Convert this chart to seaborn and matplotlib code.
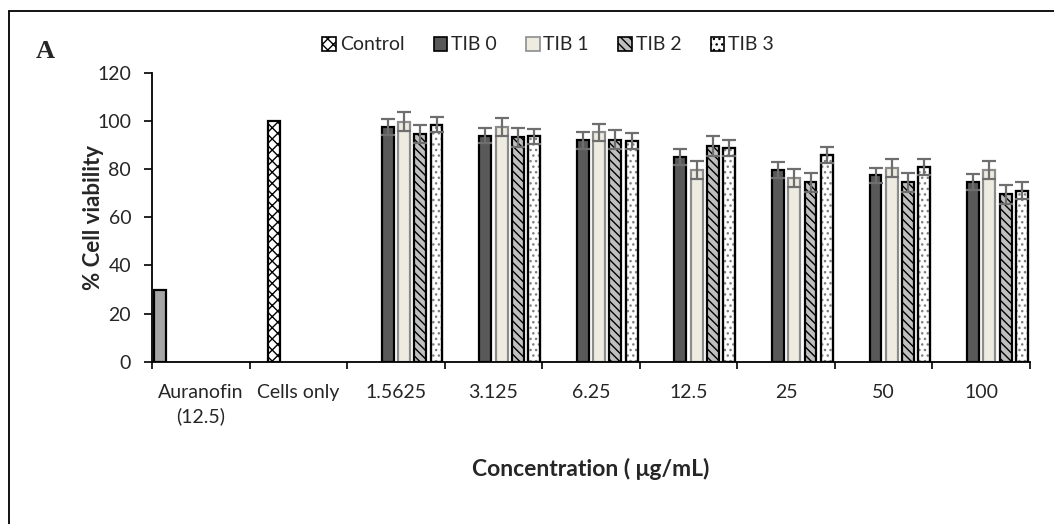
import numpy as np
import pandas as pd
import matplotlib
matplotlib.use("Agg")
import matplotlib.pyplot as plt
from matplotlib.patches import Rectangle
from matplotlib.lines import Line2D
import seaborn as sns

# ---------------- data ----------------
categories = ["Auranofin\n(12.5)", "Cells only", "1.5625", "3.125", "6.25",
              "12.5", "25", "50", "100"]
series_names = ["Auranofin", "Control", "TIB 0", "TIB 1", "TIB 2", "TIB 3"]

auranofin_value = [30]
control_value = [100]
conc_labels = ["1.5625", "3.125", "6.25", "12.5", "25", "50", "100"]
tib0 = [97.6, 94.0, 92.1, 85.2, 79.5, 77.4, 74.7]
tib1 = [99.7, 97.6, 95.3, 79.7, 76.5, 80.4, 79.6]
tib2 = [94.7, 93.3, 92.2, 89.7, 74.6, 74.5, 69.6]
tib3 = [98.5, 93.7, 91.7, 89.0, 86.0, 81.0, 71.1]
tib0_err = [3.3, 3.0, 3.5, 3.3, 3.3, 3.2, 3.2]
tib1_err = [3.9, 3.7, 3.7, 3.9, 3.7, 3.7, 3.7]
tib2_err = [3.8, 3.9, 3.9, 4.2, 4.0, 4.0, 3.9]
tib3_err = [3.2, 3.2, 3.3, 3.3, 3.3, 3.3, 3.5]
yticks = [0, 20, 40, 60, 80, 100, 120]

rows = [dict(category=categories[0], series="Auranofin", value=auranofin_value[0], err=np.nan),
        dict(category=categories[1], series="Control", value=control_value[0], err=np.nan)]
for name, vals, errs in [("TIB 0", tib0, tib0_err), ("TIB 1", tib1, tib1_err),
                         ("TIB 2", tib2, tib2_err), ("TIB 3", tib3, tib3_err)]:
    for c, v, e in zip(conc_labels, vals, errs):
        rows.append(dict(category=c, series=name, value=v, err=e))
df = pd.DataFrame(rows)

# ---------------- styles ----------------
styles = {
    "Auranofin": dict(fc="#A6A6A6", ec="black", hatch=None),
    "Control":   dict(fc="white",   ec="black", hatch="xxx"),
    "TIB 0":     dict(fc="#595959", ec="black", hatch=None),
    "TIB 1":     dict(fc="#EEECE1", ec="#8C8C8C", hatch=None),
    "TIB 2":     dict(fc="#BFBFBF", ec="black", hatch="\\\\\\\\"),
    "TIB 3":     dict(fc="white",   ec="black", hatch="...", hatch_ec="#7F7F7F"),
}
palette = {k: v["fc"] for k, v in styles.items()}

sns.set_style("white")
plt.rcParams["font.family"] = ["Lato", "DejaVu Sans"]
plt.rcParams["hatch.linewidth"] = 1.0

fig = plt.figure(figsize=(10.54, 5.24), dpi=100)
ax = fig.add_axes([152 / 1054, 1 - 361.7 / 524, 878 / 1054, 288.7 / 524])

sns.barplot(data=df, x="category", y="value", hue="series", order=categories,
            hue_order=series_names, palette=palette, width=1.0, gap=0.27,
            errorbar=None, saturation=1, legend=False, ax=ax)

nser = len(series_names)
err_lookup = {(r.category, r.series): r.err for r in df.itertuples()}
for p in list(ax.patches):
    if p.get_height() == 0 or np.isnan(p.get_height()):
        continue
    xc = p.get_x() + p.get_width() / 2
    ci = int(round(xc))
    slot = int((xc - (ci - 0.5)) // (1.0 / nser))
    sname = series_names[slot]
    st = styles[sname]
    p.set_facecolor(st["fc"])
    p.set_linewidth(1.6)
    if st["hatch"]:
        p.set_hatch(st["hatch"])
    if "hatch_ec" in st:
        p.set_edgecolor(st["hatch_ec"])
        ax.add_patch(Rectangle((p.get_x(), 0), p.get_width(), p.get_height(),
                               fill=False, edgecolor=st["ec"], linewidth=1.6, zorder=p.get_zorder() + 0.1))
    else:
        p.set_edgecolor(st["ec"])
    e = err_lookup.get((categories[ci], sname), np.nan)
    if not np.isnan(e):
        ax.errorbar(xc, p.get_height(), yerr=e, fmt="none", ecolor="#6E6E6E",
                    elinewidth=1.6, capsize=4.8, capthick=1.6, zorder=5)

# ---------------- axes ----------------
ax.set_xlim(-0.5, len(categories) - 0.5)
ax.set_ylim(0, 120)
ax.set_yticks(yticks)
ax.set_yticklabels([str(t) for t in yticks], fontsize=14)
ax.set_xticks(range(len(categories)))
ax.set_xticklabels(categories, fontsize=14, linespacing=1.45)
ax.set_xticks(np.arange(len(categories) + 1) - 0.5, minor=True)
ax.tick_params(axis="x", which="major", length=0, pad=16)
ax.tick_params(axis="x", which="minor", length=5, width=1.2, color="black", direction="out")
ax.tick_params(axis="y", which="major", length=6, width=1.2, color="black",
               direction="out", pad=9, left=True)
ax.xaxis.set_tick_params(bottom=True, which="both")
for side in ["top", "right"]:
    ax.spines[side].set_visible(False)
for side in ["left", "bottom"]:
    ax.spines[side].set_visible(True)
    ax.spines[side].set_color("black")
    ax.spines[side].set_linewidth(1.3)
ax.grid(False)

ax.set_ylabel("% Cell viability", fontsize=16, fontweight="bold")
ax.yaxis.set_label_coords(-(152 - 104) / 878, 0.5)
ax.set_xlabel("Concentration ( μg/mL)", fontsize=16.5, fontweight="bold")
ax.xaxis.set_label_coords(0.5, -(469 - 361.7) / 288.7)
ax.xaxis.label.set_va("center")

# legend
handles = []
for s in series_names[1:]:
    st = styles[s]
    handles.append(Rectangle((0, 0), 1, 1, facecolor=st["fc"], edgecolor=st["ec"],
                             hatch=st["hatch"], linewidth=1.2))
fig.legend(handles, series_names[1:], loc="center", bbox_to_anchor=(548 / 1054, 1 - 45 / 524),
           ncol=5, frameon=False, fontsize=14, handlelength=0.7, handleheight=0.7,
           handletextpad=0.2, columnspacing=1.5)

# panel letter and frame
fig.text(45 / 1054, 1 - 52 / 524, "A", fontsize=19, fontweight="bold",
         family="Liberation Serif", ha="center", va="center")
fig.add_artist(Line2D([9 / 1054, 9 / 1054], [0, 1 - 10.5 / 524], color="black", lw=1.3,
                      transform=fig.transFigure))
fig.add_artist(Line2D([9 / 1054, 1], [1 - 10.5 / 524, 1 - 10.5 / 524], color="black", lw=1.3,
                      transform=fig.transFigure))

fig.savefig("out.png", dpi=100)
